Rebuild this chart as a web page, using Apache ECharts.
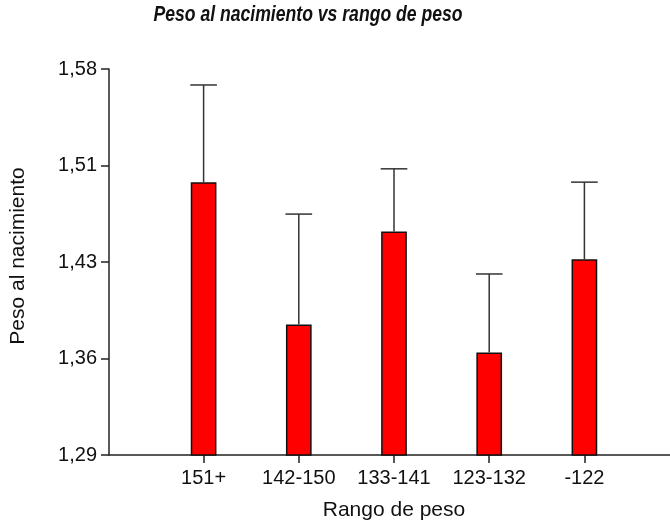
<!DOCTYPE html>
<html>
<head>
<meta charset="utf-8">
<script src="https://cdn.jsdelivr.net/npm/echarts@6/dist/echarts.min.js"></script>
<style>
html,body{margin:0;padding:0;background:#fff;}
#chart{width:670px;height:527px;}
</style>
</head>
<body>
<div id="chart"></div>
<script>
// ---- data ----
const categories = ['151+', '142-150', '133-141', '123-132', '-122'];
const meanValues = [1.495, 1.388, 1.458, 1.367, 1.437];
const upperValues = [1.568, 1.471, 1.505, 1.426, 1.495];
const yTickValues = [1.29, 1.3625, 1.435, 1.5075, 1.58];
const yTickLabels = ['1,29', '1,36', '1,43', '1,51', '1,58'];
const yMin = 1.29, yMax = 1.58;
const titleText = 'Peso al nacimiento vs rango de peso';

const font = "'Liberation Sans', Arial, sans-serif";
const chart = echarts.init(document.getElementById('chart'));

const errorData = categories.map((c, i) => [i, meanValues[i], upperValues[i]]);

chart.setOption({
  animation: false,
  backgroundColor: '#ffffff',
  graphic: [
    { type: 'text', x: 308, y: 4, scaleX: 0.8, z: 10,
      style: { text: titleText, align: 'center', verticalAlign: 'top',
        font: "italic bold 22px 'Liberation Sans', Arial, sans-serif", fill: '#111' } }
  ],
  grid: [
    { left: 109, right: 0, top: 69, bottom: 72 },
    { left: 156, right: 38, top: 69, bottom: 72 }
  ],
  xAxis: [
    { gridIndex: 0, type: 'value', min: 0, max: 1, axisLine: { show: true, lineStyle: { color: '#222', width: 1.5 } },
      axisTick: { show: false }, axisLabel: { show: false }, splitLine: { show: false } },
    { gridIndex: 1, type: 'category', data: categories,
      axisLine: { show: false },
      axisTick: { show: true, interval: 0, alignWithLabel: true, length: 8, lineStyle: { color: '#222', width: 1.5 } },
      axisLabel: { interval: 0, hideOverlap: false, margin: 13, fontFamily: font, fontSize: 20, color: '#111' },
      name: 'Rango de peso', nameLocation: 'middle', nameGap: 45,
      nameTextStyle: { fontFamily: font, fontSize: 21, color: '#111' } }
  ],
  yAxis: [
    { gridIndex: 0, type: 'value', min: yMin, max: yMax,
      axisLine: { show: true, lineStyle: { color: '#222', width: 1.5 } },
      axisTick: { show: true, length: 8, customValues: yTickValues, lineStyle: { color: '#222', width: 1.5 } },
      axisLabel: { margin: 12, customValues: yTickValues, fontFamily: font, fontSize: 20, color: '#111',
        formatter: v => { const k = yTickValues.findIndex(t => Math.abs(t - v) < 1e-6); return k >= 0 ? yTickLabels[k] : ''; } },
      splitLine: { show: false },
      name: 'Peso al nacimiento', nameLocation: 'middle', nameGap: 80,
      nameTextStyle: { fontFamily: font, fontSize: 21, color: '#111', padding: [0, 0, 0, 12] } },
    { gridIndex: 1, type: 'value', min: yMin, max: yMax, show: false, splitLine: { show: false } }
  ],
  series: [
    { type: 'bar', xAxisIndex: 1, yAxisIndex: 1, data: meanValues, barWidth: '27%', clip: true,
      itemStyle: { color: '#ff0000', borderColor: '#111', borderWidth: 1.5 }, z: 2 },
    { type: 'custom', xAxisIndex: 1, yAxisIndex: 1, data: errorData, z: 3,
      renderItem: function (params, api) {
        const i = api.value(0);
        const p0 = api.coord([i, api.value(1)]);
        const p1 = api.coord([i, api.value(2)]);
        const half = api.size([1, 0])[0] * 0.14;
        const style = { stroke: '#333', lineWidth: 1.5 };
        return { type: 'group', children: [
          { type: 'line', shape: { x1: p0[0], y1: p0[1], x2: p1[0], y2: p1[1] }, style: style },
          { type: 'line', shape: { x1: p1[0] - half, y1: p1[1], x2: p1[0] + half, y2: p1[1] }, style: style }
        ] };
      } }
  ]
});
</script>
</body>
</html>
